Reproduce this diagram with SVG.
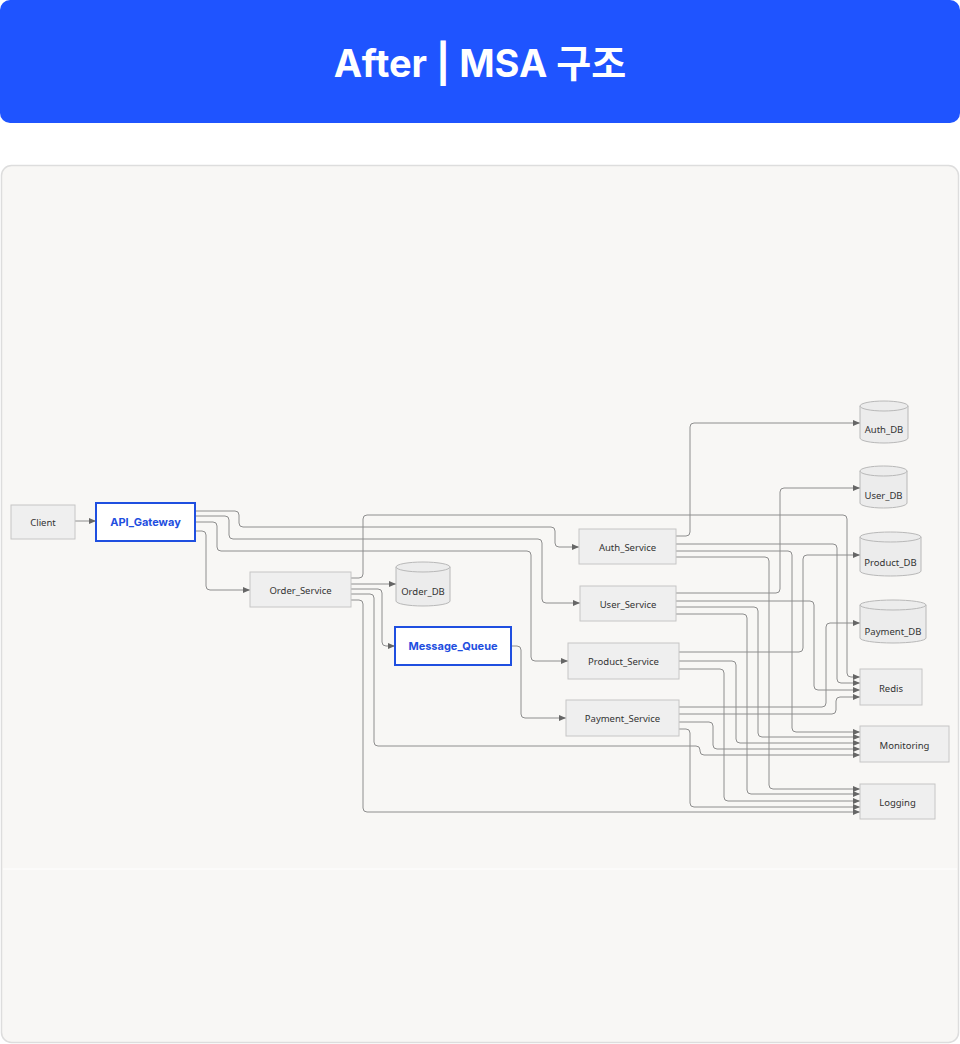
<svg xmlns="http://www.w3.org/2000/svg" width="960" height="1044" viewBox="0 0 960 1044">
<style>
.box{fill:#efefef;stroke:#c6c6c6;stroke-width:1}
.hl{fill:#ffffff;stroke:#1f4fe0;stroke-width:2}
.db{fill:#ececec;stroke:#b8b8b8;stroke-width:1}
.lbl{font-family:"Noto Sans","Open Sans","DejaVu Sans",sans-serif;font-size:9.5px;fill:#333;text-anchor:middle;dominant-baseline:central}
.hlt{font-family:"Inter","Liberation Sans",sans-serif;font-size:11px;font-weight:700;fill:#1f4fe0;text-anchor:middle;dominant-baseline:central}
.c{fill:none;stroke:#8e8e8e;stroke-width:1;marker-end:url(#arr)}
</style>
<defs>
<marker id="arr" markerWidth="7" markerHeight="6" refX="7" refY="3" orient="auto" markerUnits="userSpaceOnUse">
<path d="M0,0 L7,3 L0,6 Z" fill="#666"/>
</marker>
</defs>
<rect x="0" y="0" width="960" height="123" rx="10" fill="#1f54ff"/>
<text x="480" y="63" font-family="Inter,'Noto Sans CJK KR',sans-serif" font-size="38" font-weight="700" fill="#ffffff" text-anchor="middle" dominant-baseline="central">After | MSA 구조</text>
<rect x="1.5" y="165.5" width="957" height="877" rx="10" fill="#f8f7f5" stroke="#dddddd" stroke-width="1.5"/>
<line x1="3" y1="869" x2="957" y2="869" stroke="#ffffff" stroke-width="1"/>
<g id="connectors">
<path class="c" d="M75,521 H96"/>
<path class="c" d="M195,511 H235 Q239,511 239,515 V523 Q239,527 243,527 H551 Q555,527 555,531 V543 Q555,547 559,547 H579"/>
<path class="c" d="M195,516 H225 Q229,516 229,520 V535 Q229,539 233,539 H538 Q542,539 542,543 V599 Q542,603 546,603 H580"/>
<path class="c" d="M195,522 H213 Q217,522 217,526 V547 Q217,551 221,551 H527 Q531,551 531,555 V657 Q531,661 535,661 H568"/>
<path class="c" d="M195,531 H202 Q206,531 206,535 V586 Q206,590 210,590 H250"/>
<path class="c" d="M351,578 H359 Q363,578 363,574 V519 Q363,515 367,515 H843 Q847,515 847,519 V673 Q847,677 851,677 H860"/>
<path class="c" d="M351,584 H396"/>
<path class="c" d="M351,589 H378 Q382,589 382,593 V642 Q382,646 386,646 H395"/>
<path class="c" d="M351,594 H370 Q374,594 374,598 V742 Q374,746 378,746 H696 Q700,746 700,750 V751 Q700,755 704,755 H860"/>
<path class="c" d="M351,600 H359 Q363,600 363,604 V808 Q363,812 367,812 H860"/>
<path class="c" d="M511,646 H517 Q521,646 521,650 V714 Q521,718 525,718 H566"/>
<path class="c" d="M676,536 H686 Q690,536 690,532 V427 Q690,423 694,423 H860"/>
<path class="c" d="M676,544 H833 Q837,544 837,548 V679 Q837,683 841,683 H860"/>
<path class="c" d="M676,551 H788 Q792,551 792,555 V728 Q792,732 796,732 H860"/>
<path class="c" d="M676,557 H765 Q769,557 769,561 V785 Q769,789 773,789 H860"/>
<path class="c" d="M676,593 H776 Q780,593 780,589 V492 Q780,488 784,488 H860"/>
<path class="c" d="M676,601 H810 Q814,601 814,605 V686 Q814,690 818,690 H860"/>
<path class="c" d="M676,607 H754 Q758,607 758,611 V733 Q758,737 762,737 H860"/>
<path class="c" d="M676,614 H743 Q747,614 747,618 V790 Q747,794 751,794 H860"/>
<path class="c" d="M679,652 H799 Q803,652 803,648 V559 Q803,555 807,555 H860"/>
<path class="c" d="M679,661 H732 Q736,661 736,665 V739 Q736,743 740,743 H860"/>
<path class="c" d="M679,669 H720 Q724,669 724,673 V797 Q724,801 728,801 H860"/>
<path class="c" d="M679,707 H822 Q826,707 826,703 V627 Q826,623 830,623 H860"/>
<path class="c" d="M679,714 H832 Q836,714 836,710 V701 Q836,697 840,697 H860"/>
<path class="c" d="M679,722 H709 Q713,722 713,726 V745 Q713,749 717,749 H860"/>
<path class="c" d="M679,729 H686 Q690,729 690,733 V803 Q690,807 694,807 H860"/>
</g>
<g id="client"><rect class="box" x="11" y="505" width="64" height="34"/><text class="lbl" x="43" y="522">Client</text></g>
<g id="api_gateway"><rect class="hl" x="96" y="503" width="99" height="38"/><text class="hlt" x="145.5" y="522">API_Gateway</text></g>
<g id="order_service"><rect class="box" x="250" y="572" width="101" height="35"/><text class="lbl" x="300.5" y="590">Order_Service</text></g>
<g id="order_db"><path class="db" d="M396,567 A27,5 0 0 1 450,567 V601 A27,5 0 0 1 396,601 Z"/><path class="db" d="M396,567 A27,5 0 0 0 450,567" fill="none"/><text class="lbl" x="423" y="591">Order_DB</text></g>
<g id="message_queue"><rect class="hl" x="395" y="627" width="116" height="38"/><text class="hlt" x="453" y="646">Message_Queue</text></g>
<g id="auth_service"><rect class="box" x="579" y="529" width="97" height="35"/><text class="lbl" x="627.5" y="547">Auth_Service</text></g>
<g id="user_service"><rect class="box" x="580" y="586" width="96" height="35"/><text class="lbl" x="628" y="604">User_Service</text></g>
<g id="product_service"><rect class="box" x="568" y="643" width="111" height="36"/><text class="lbl" x="623.5" y="661">Product_Service</text></g>
<g id="payment_service"><rect class="box" x="566" y="700" width="113" height="36"/><text class="lbl" x="622.5" y="718">Payment_Service</text></g>
<g id="auth_db"><path class="db" d="M860,406 A24,5 0 0 1 908,406 V438 A24,5 0 0 1 860,438 Z"/><path class="db" d="M860,406 A24,5 0 0 0 908,406" fill="none"/><text class="lbl" x="884" y="429">Auth_DB</text></g>
<g id="user_db"><path class="db" d="M860,471 A23.5,5 0 0 1 907,471 V503 A23.5,5 0 0 1 860,503 Z"/><path class="db" d="M860,471 A23.5,5 0 0 0 907,471" fill="none"/><text class="lbl" x="883.5" y="495">User_DB</text></g>
<g id="product_db"><path class="db" d="M860,537 A30.5,5 0 0 1 921,537 V571 A30.5,5 0 0 1 860,571 Z"/><path class="db" d="M860,537 A30.5,5 0 0 0 921,537" fill="none"/><text class="lbl" x="890.5" y="562">Product_DB</text></g>
<g id="payment_db"><path class="db" d="M860,605 A33,5 0 0 1 926,605 V638 A33,5 0 0 1 860,638 Z"/><path class="db" d="M860,605 A33,5 0 0 0 926,605" fill="none"/><text class="lbl" x="893" y="631">Payment_DB</text></g>
<g id="redis"><rect class="box" x="860" y="669" width="62" height="36"/><text class="lbl" x="891" y="688">Redis</text></g>
<g id="monitoring"><rect class="box" x="860" y="726" width="89" height="36"/><text class="lbl" x="904.5" y="745">Monitoring</text></g>
<g id="logging"><rect class="box" x="860" y="784" width="75" height="35"/><text class="lbl" x="897.5" y="802">Logging</text></g>
</svg>
